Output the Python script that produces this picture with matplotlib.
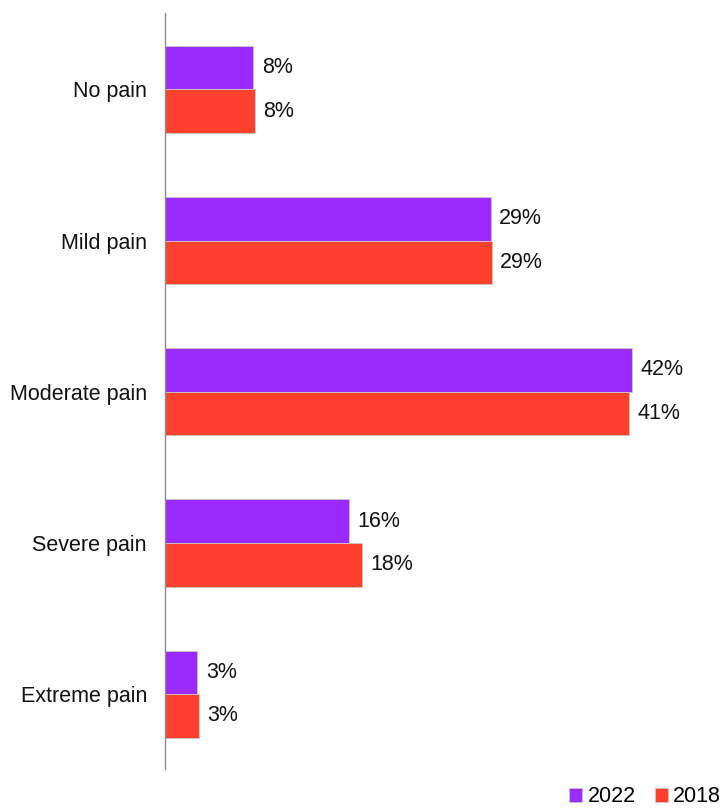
import matplotlib

matplotlib.use("Agg")
import matplotlib.pyplot as plt
import numpy as np
from matplotlib.patches import Patch

plt.rcParams["font.family"] = ["Liberation Sans", "DejaVu Sans"]

categories = ["No pain", "Mild pain", "Moderate pain", "Severe pain", "Extreme pain"]
series_names = ["2022", "2018"]
values_2022 = [7.9, 29.1, 41.7, 16.4, 2.9]
values_2018 = [8.0, 29.2, 41.4, 17.6, 3.0]
colors = ["#9B2AFF", "#FF412C"]

fig = plt.figure(figsize=(7.26, 8.09), dpi=100)
ax = fig.add_axes([165 / 726, 40 / 809, 560 / 726, 756 / 809])

y = np.arange(len(categories))
h = 0.288
for vals, off, col in ((values_2022, -h / 2, colors[0]), (values_2018, h / 2, colors[1])):
    bars = ax.barh(y + off + 0.005, vals, height=h, color=col, edgecolor="#C8C8C8", linewidth=0.6)
    for b, v in zip(bars, vals):
        ax.annotate(f"{round(v):.0f}%", (b.get_width(), b.get_y() + b.get_height() / 2),
                    xytext=(6, 0), textcoords="offset points", va="center", ha="left",
                    fontsize=15.5, color="#111111")

ax.set_xlim(0, 50)
ax.set_ylim(len(categories) - 0.5, -0.5)
ax.set_yticks(y + 0.005)
ax.set_yticklabels(categories, fontsize=15.5, color="#111111")
ax.tick_params(axis="y", length=0, pad=13)
ax.set_xticks([])
for side in ("top", "right", "bottom"):
    ax.spines[side].set_visible(False)
ax.spines["left"].set_color("#8C8C8C")
ax.spines["left"].set_linewidth(1)

handles = [Patch(facecolor=c, edgecolor="#C8C8C8", linewidth=0.5) for c in colors]
fig.legend(handles, series_names, loc="lower right", bbox_to_anchor=(1.02, -0.022), ncol=2,
           frameon=False, fontsize=15.5, handlelength=0.6, handleheight=0.6,
           handletextpad=0.25, columnspacing=0.9)

fig.savefig("out.png", dpi=100)
